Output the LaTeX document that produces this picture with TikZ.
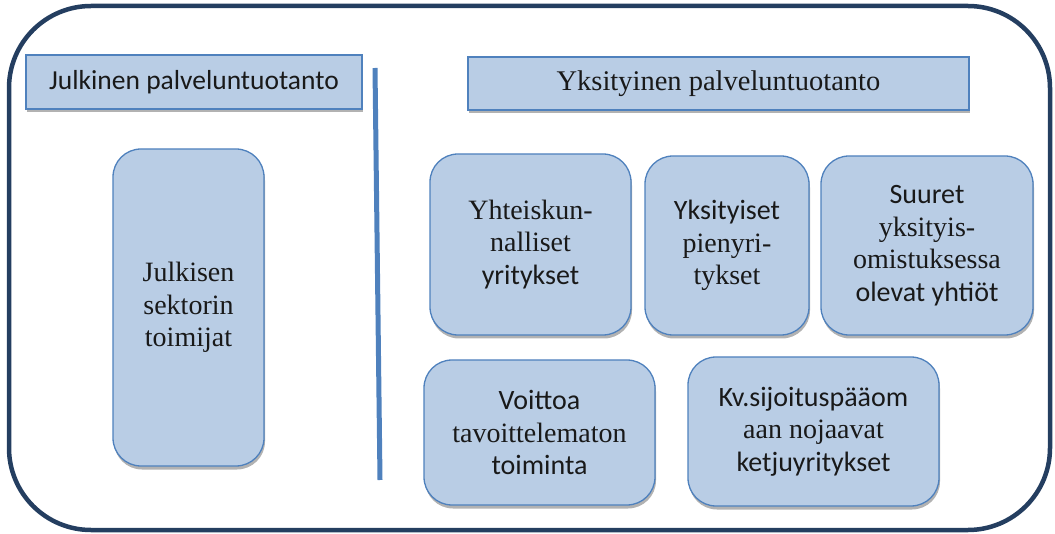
\documentclass[tikz,border=0pt]{standalone}
\usepackage{fontspec}
\setmainfont{Liberation Serif}
\newfontfamily\tm{Liberation Serif}
\newfontfamily\cb{Carlito}
\usetikzlibrary{shadows}
\definecolor{boxfill}{RGB}{185,205,229}
\definecolor{boxline}{RGB}{79,129,189}
\definecolor{framecol}{RGB}{36,62,96}
\newcommand{\cbl}[1]{{\cb\fontsize{28}{32.5}\selectfont #1}}
\begin{document}
\begin{tikzpicture}[x=1pt,y=-1pt,
  shadowed/.style={drop shadow={shadow xshift=1pt, shadow yshift=-3.5pt, fill=black!30, opacity=1}},
  titlebox/.style={draw=boxline, fill=boxfill, line width=1.3pt, shadowed, inner sep=0pt, text=black!90},
  rbox/.style={draw=boxline, fill=boxfill, line width=1.3pt, rounded corners=28pt, shadowed,
    align=center, inner sep=0pt, text=black!90, font=\tm\fontsize{28}{32.5}\selectfont}]
\useasboundingbox (0,0) rectangle (1055,534);
\draw[framecol, line width=4.5pt, rounded corners=82pt] (9,6) rectangle (1050,530);

\node[titlebox, minimum width=336pt, minimum height=54pt, font=\cb\fontsize{27.5}{32}\selectfont]
  (pub) at (194,82) {Julkinen palveluntuotanto};
\node[titlebox, minimum width=501pt, minimum height=53pt, font=\tm\fontsize{28.5}{32}\selectfont]
  (priv) at (718.5,83.5) {Yksityinen palveluntuotanto};

\draw[boxline, line width=5pt] (375,68) -- (380,480);

\node[rbox, minimum width=151pt, minimum height=317pt] (julk) at (188.5,307.5)
  {Julkisen\\sektorin\\toimijat};
\node[rbox, minimum width=201pt, minimum height=181pt] (yht) at (530.5,244.5)
  {Yhteiskun-\\nalliset\\\cbl{yritykset}};
\node[rbox, minimum width=164pt, minimum height=179pt] (pien) at (727,245.5)
  {\cbl{Yksityiset}\\pienyri-\\tykset};
\node[rbox, minimum width=212pt, minimum height=179pt] (suur) at (927,245.5)
  {\cbl{Suuret}\\yksityis-\\omistuksessa\\\cbl{olevat yhtiöt}};
\node[rbox, minimum width=231pt, minimum height=145pt] (voit) at (539.5,432.5)
  {\cbl{Voittoa}\\tavoittelematon\\\cbl{toiminta}};
\node[rbox, minimum width=251pt, minimum height=149pt] (kv) at (813.5,431.5)
  {\cbl{Kv.sijoituspääom}\\aan nojaavat\\\cbl{ketjuyritykset}};
\end{tikzpicture}
\end{document}
